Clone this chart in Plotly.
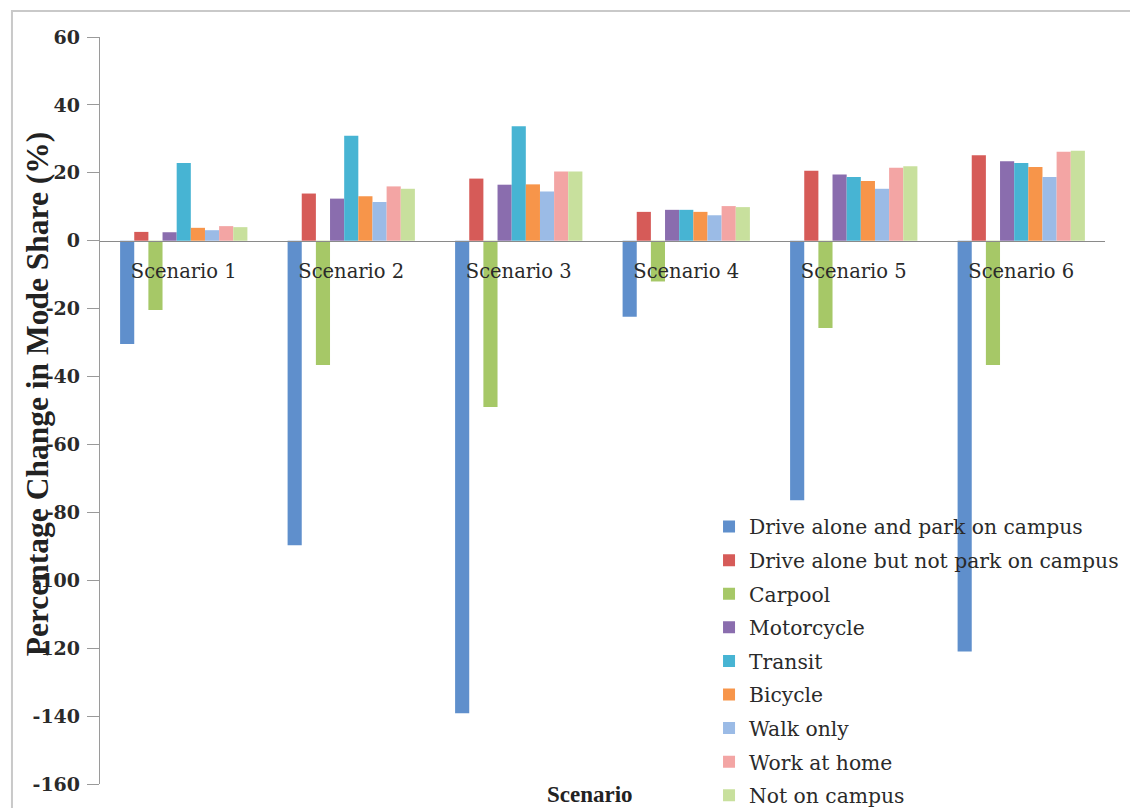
import plotly.graph_objects as go

# Scenario categories along the x axis
scenarios = ["Scenario 1", "Scenario 2", "Scenario 3", "Scenario 4", "Scenario 5", "Scenario 6"]

# Percentage change in mode share for each travel mode, per scenario
drive_park = [-30.4, -89.7, -139.2, -22.4, -76.4, -121.0]
drive_no_park = [2.6, 13.9, 18.3, 8.5, 20.6, 25.2]
carpool = [-20.4, -36.6, -49.0, -12.0, -25.7, -36.6]
motorcycle = [2.5, 12.4, 16.5, 9.1, 19.5, 23.4]
transit = [22.9, 30.9, 33.7, 9.1, 18.8, 22.9]
bicycle = [3.8, 13.1, 16.6, 8.5, 17.6, 21.7]
walk_only = [3.1, 11.4, 14.5, 7.5, 15.3, 18.8]
work_home = [4.3, 16.0, 20.4, 10.2, 21.5, 26.2]
not_campus = [4.0, 15.3, 20.4, 9.9, 21.9, 26.5]

y_ticks = [60, 40, 20, 0, -20, -40, -60, -80, -100, -120, -140, -160]
y_tick_text = [str(v) for v in y_ticks]

series = [
    ("Drive alone and park on campus", drive_park, "#5F8FCC"),
    ("Drive alone but not park on campus", drive_no_park, "#D65B58"),
    ("Carpool", carpool, "#A6C867"),
    ("Motorcycle", motorcycle, "#8A6DAE"),
    ("Transit", transit, "#47B4D3"),
    ("Bicycle", bicycle, "#F7954A"),
    ("Walk only", walk_only, "#9BBBE6"),
    ("Work at home", work_home, "#F3A5A4"),
    ("Not on campus", not_campus, "#C8E09D"),
]

fig = go.Figure()
for i, (name, vals, col) in enumerate(series):
    fig.add_trace(go.Bar(
        x=scenarios, y=vals, name=name,
        marker=dict(color=col, line=dict(width=0)),
        legendgroup=f"g{i}",
    ))

W, H = 1130, 808
L, R, T, B = 100, 25, 37, 24
ymin, ymax = -160, 60
zero_pos = (0 - ymin) / (ymax - ymin)

serif = "DejaVu Serif"

fig.update_layout(
    width=W, height=H,
    margin=dict(l=L, r=R, t=T, b=B, autoexpand=False),
    paper_bgcolor="white", plot_bgcolor="white",
    barmode="group", bargap=0.24, bargroupgap=0,
    showlegend=True,
    legend=dict(
        x=0.606, y=0.371, xanchor="left", yanchor="top",
        bgcolor="rgba(0,0,0,0)",
        font=dict(family=serif, size=20.3, color="#2a2a2a"),
        traceorder="grouped", tracegroupgap=4.2,
        itemwidth=30,
    ),
    xaxis=dict(
        anchor="free", position=zero_pos,
        showline=True, linecolor="#8a8a8a", linewidth=1.3,
        ticks="", showgrid=False, zeroline=False,
        tickfont=dict(family=serif, size=19.5, color="#2a2a2a"),
        ticklabelstandoff=13,
    ),
    yaxis=dict(
        range=[ymin, ymax], tickvals=y_ticks, ticktext=y_tick_text,
        showline=True, linecolor="#9a9a9a", linewidth=1.3,
        ticks="outside", ticklen=12, tickcolor="#9a9a9a", tickwidth=1,
        showgrid=False, zeroline=False,
        tickfont=dict(family=serif, size=19, color="#2a2a2a", weight="bold"),
        ticklabelstandoff=3,
    ),
    font=dict(family=serif),
)

# Outer chart frame (top and left edges visible)
fig.add_shape(
    type="rect", xref="paper", yref="paper",
    x0=-0.0876, x1=1.2, y0=-0.2, y1=1.0348,
    line=dict(color="#c9c9c9", width=2), fillcolor="rgba(0,0,0,0)",
    layer="below",
)

# Axis titles
fig.add_annotation(
    text="<b>Scenario</b>", xref="paper", yref="paper",
    x=0.4876, y=-0.0147, xanchor="center", yanchor="middle",
    showarrow=False, borderpad=0,
    font=dict(family="Liberation Serif", size=23, color="#222"),
)
fig.add_annotation(
    text="<b>Percentage Change in Mode Share (%)</b>", xref="paper", yref="paper",
    x=-0.0627, y=0.523, xanchor="center", yanchor="middle", textangle=-90,
    showarrow=False,
    font=dict(family="Liberation Serif", size=31.5, color="#222"),
)

fig.write_html("out.html")
